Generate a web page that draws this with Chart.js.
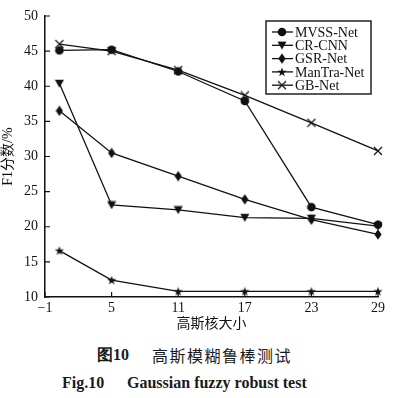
<!DOCTYPE html>
<html>
<head>
<meta charset="utf-8">
<script src="https://cdn.jsdelivr.net/npm/chart.js@4/dist/chart.umd.min.js"></script>
<style>
  html, body { margin: 0; padding: 0; background: #fff; }
  #wrap { position: relative; width: 406px; height: 398px; overflow: hidden; }
  #chart { position: absolute; left: 0; top: 0; }
  .cap { position: absolute; color: #1a1a1a; white-space: nowrap; }
  .cjk { font-family: 'Noto Sans CJK SC', sans-serif; font-size: 16px; line-height: 16px; letter-spacing: 1.5px; }
  .en { font-family: 'Liberation Serif', serif; font-weight: bold; font-size: 16px; line-height: 16px; }
</style>
</head>
<body>
<div id="wrap">
  <canvas id="chart" width="406" height="340"></canvas>
  <span class="cap en" style="left:97px;top:347px;">图10</span>
  <span class="cap cjk" style="left:152px;top:347px;">高斯模糊鲁棒测试</span>
  <span class="cap en" style="left:62px;top:375px;">Fig.10</span>
  <span class="cap en" style="left:127px;top:375px;">Gaussian fuzzy robust test</span>
</div>
<script>
// ---------- data ----------
const kernelSizes = [0.3, 5, 11, 17, 23, 29];
const xTicks = [-1, 5, 11, 17, 23, 29];
const seriesNames = ['MVSS-Net', 'CR-CNN', 'GSR-Net', 'ManTra-Net', 'GB-Net'];
const mvssNet = [45.1, 45.2, 42.1, 37.9, 22.8, 20.3];
const crCnn = [40.4, 23.1, 22.4, 21.3, 21.2, 20.1];
const gsrNet = [36.5, 30.5, 27.2, 23.9, 21.0, 18.9];
const manTraNet = [16.6, 12.4, 10.8, 10.8, 10.8, 10.8];
const gbNet = [46.0, 45.0, 42.3, 38.7, 34.8, 30.8];

const INK = '#111';
const SERIF = "'Liberation Serif', 'Noto Sans CJK SC', serif";

// ---------- marker sprites ----------
function sprite(w, h, draw) {
  const c = document.createElement('canvas');
  c.width = w; c.height = h;
  const ctx = c.getContext('2d');
  ctx.fillStyle = INK; ctx.strokeStyle = INK;
  draw(ctx, w, h);
  return c;
}

const markers = [
  sprite(10, 10, (ctx) => { ctx.beginPath(); ctx.arc(5, 5, 4.3, 0, Math.PI * 2); ctx.fill(); }),
  sprite(10, 9, (ctx) => { ctx.beginPath(); ctx.moveTo(0.5, 0.8); ctx.lineTo(9.5, 0.8); ctx.lineTo(5, 8.8); ctx.closePath(); ctx.fill(); }),
  sprite(8, 11, (ctx) => { ctx.beginPath(); ctx.moveTo(4, 0.3); ctx.lineTo(7.6, 5.5); ctx.lineTo(4, 10.7); ctx.lineTo(0.4, 5.5); ctx.closePath(); ctx.fill(); }),
  sprite(10, 10, (ctx) => {
    ctx.beginPath();
    for (let i = 0; i < 10; i++) {
      const r = i % 2 ? 1.9 : 4.8;
      const a = -Math.PI / 2 + i * Math.PI / 5;
      const px = 5 + r * Math.cos(a), py = 5.3 + r * Math.sin(a);
      i ? ctx.lineTo(px, py) : ctx.moveTo(px, py);
    }
    ctx.closePath(); ctx.fill();
  }),
  sprite(10, 10, (ctx) => { ctx.lineWidth = 1.2; ctx.beginPath(); ctx.moveTo(1, 1); ctx.lineTo(9, 9); ctx.moveTo(9, 1); ctx.lineTo(1, 9); ctx.stroke(); })
];

const allSeries = [mvssNet, crCnn, gsrNet, manTraNet, gbNet];

function makeDataset(i) {
  return {
    label: seriesNames[i],
    data: kernelSizes.map((x, j) => ({ x: x, y: allSeries[i][j] })),
    borderColor: INK,
    borderWidth: 1.3,
    pointStyle: markers[i],
    pointRadius: 5,
    fill: false,
    tension: 0,
    clip: false
  };
}

// ---------- plugins ----------
const inwardTicks = {
  id: 'inwardTicks',
  afterDraw(chart) {
    const { ctx, scales: { x, y } } = chart;
    ctx.save();
    ctx.strokeStyle = INK;
    ctx.lineWidth = 1.2;
    ctx.beginPath();
    x.ticks.forEach(t => {
      const px = x.getPixelForValue(t.value);
      ctx.moveTo(px, y.bottom); ctx.lineTo(px, y.bottom - 5);
    });
    y.ticks.forEach(t => {
      const py = y.getPixelForValue(t.value);
      ctx.moveTo(x.left, py); ctx.lineTo(x.left + 5, py);
    });
    ctx.stroke();
    ctx.restore();
  }
};

const boxLegend = {
  id: 'boxLegend',
  afterDraw(chart) {
    const ctx = chart.ctx;
    const left = 266, top = 21, w = 105, h = 73;
    ctx.save();
    ctx.strokeStyle = '#222';
    ctx.lineWidth = 1.5;
    ctx.strokeRect(left, top, w, h);
    ctx.font = '14px ' + SERIF;
    ctx.fillStyle = INK;
    ctx.textBaseline = 'middle';
    chart.data.datasets.forEach((ds, i) => {
      const cy = 32 + i * 13.3;
      ctx.strokeStyle = INK;
      ctx.lineWidth = 1.3;
      ctx.beginPath(); ctx.moveTo(272, cy); ctx.lineTo(293, cy); ctx.stroke();
      const m = ds.pointStyle;
      ctx.drawImage(m, 282 - m.width / 2, cy - m.height / 2);
      ctx.fillText(ds.label, 295, cy + 1);
    });
    ctx.restore();
  }
};

// ---------- chart ----------
new Chart(document.getElementById('chart'), {
  type: 'line',
  data: { datasets: seriesNames.map((_, i) => makeDataset(i)) },
  options: {
    responsive: false,
    animation: false,
    layout: { padding: { left: 0, right: 28, top: 16, bottom: 0 } },
    plugins: { legend: { display: false }, tooltip: { enabled: false } },
    scales: {
      x: {
        type: 'linear',
        min: -1,
        max: 29,
        afterBuildTicks: (s) => { s.ticks = xTicks.map(v => ({ value: v })); },
        afterFit: (s) => { s.height = 43; },
        grid: { display: false, drawTicks: false },
        border: { color: INK, width: 1.5 },
        ticks: {
          color: INK, padding: 3, font: { family: SERIF, size: 14 },
          callback: (v) => (v < 0 ? '\u2212' + Math.abs(v) : String(v))
        },
        title: { display: true, text: '高斯核大小', color: INK, padding: { top: 0, bottom: 7 }, font: { family: SERIF, size: 14 } }
      },
      y: {
        min: 10,
        max: 50,
        ticks: { stepSize: 5, color: INK, padding: 7, font: { family: SERIF, size: 14 } },
        afterFit: (s) => { s.width = 45; },
        grid: { display: false, drawTicks: false },
        border: { color: INK, width: 1.5 },
        title: { display: true, text: 'F1分数/%', color: INK, padding: { top: 0, bottom: 0 }, font: { family: SERIF, size: 14 } }
      }
    }
  },
  plugins: [inwardTicks, boxLegend]
});
</script>
</body>
</html>
